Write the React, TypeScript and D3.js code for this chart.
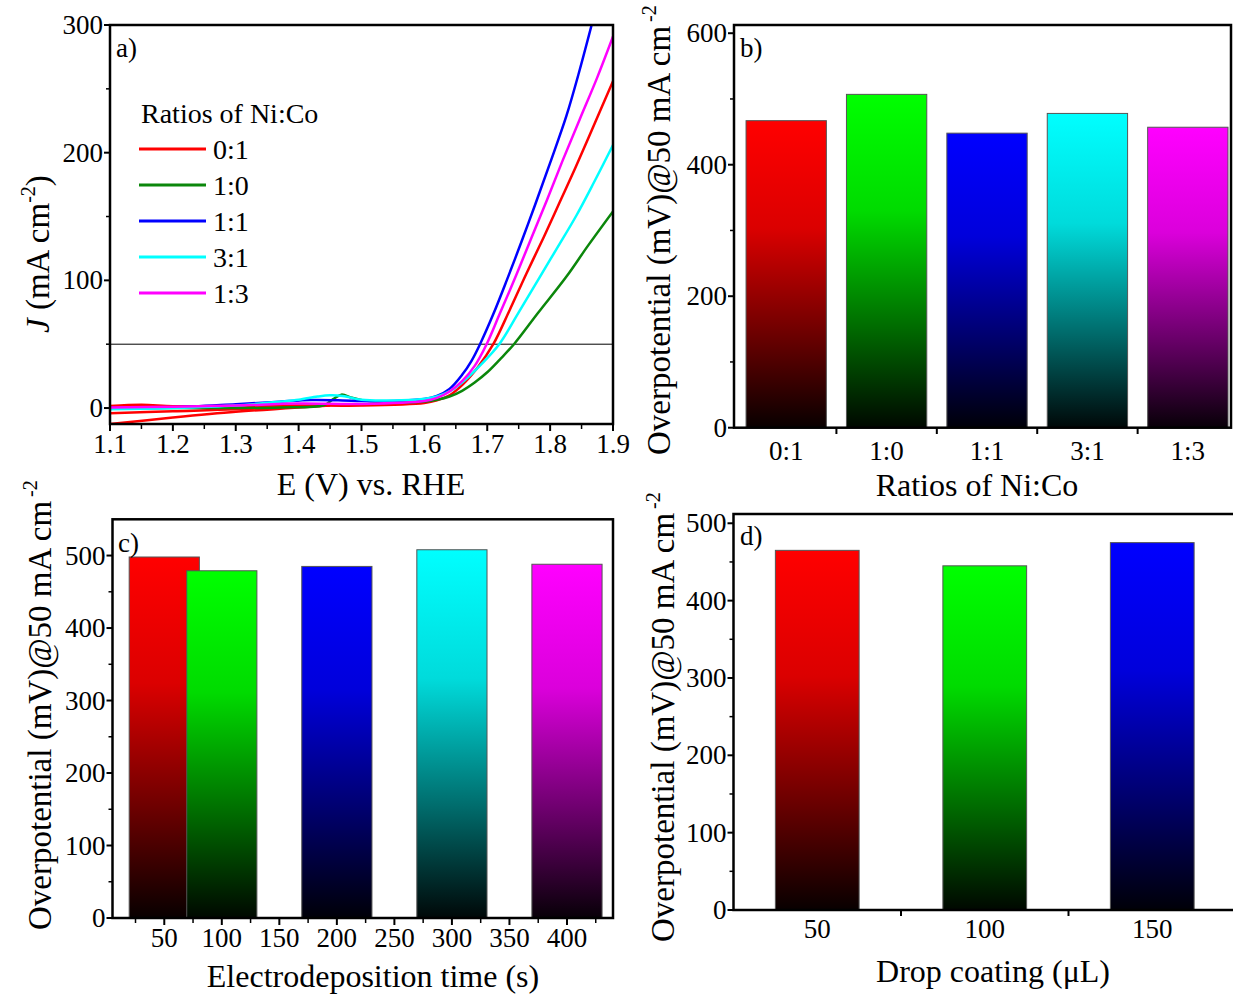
import React from "react";
import * as d3 from "d3";

const FONT = "'Liberation Serif','Times New Roman',Times,serif";

type Pt = [number, number];

// ---------- Panel a: LSV curves (E vs RHE, J in mA cm^-2) ----------
const ratioLabels = ["0:1", "1:0", "1:1", "3:1", "1:3"];
const lineColors = ["#ff0000", "#0b870b", "#0000ff", "#00ffff", "#ff00ff"];
const barColors = ["#ff0000", "#00ff00", "#0000ff", "#00ffff", "#ff00ff"];

const lsv01: Pt[] = [
  [1.1, 1.5], [1.15, 2.5], [1.2, 1.5], [1.3, 1.5], [1.4, 2], [1.5, 2], [1.6, 4],
  [1.62, 6], [1.64, 10], [1.66, 18], [1.685, 32], [1.7096, 50], [1.735, 76], [1.762, 105],
  [1.79, 134], [1.815, 161], [1.84, 188], [1.871, 223], [1.9, 256],
];
const lsv01ReturnA: Pt[] = [[1.1, -4], [1.2, -2.5], [1.3, -1], [1.4, 1.5]];
const lsv01ReturnB: Pt[] = [[1.1, -12.5], [1.2, -7.5], [1.3, -3], [1.4, 0.5], [1.45, 2]];
const lsv10: Pt[] = [
  [1.1, 0], [1.2, 0], [1.3, 0], [1.37, 0.5], [1.44, 2.2], [1.455, 7], [1.468, 10.5],
  [1.485, 8], [1.503, 6], [1.55, 4.5], [1.598, 5], [1.62, 6.5], [1.64, 9], [1.66, 13.5],
  [1.68, 20], [1.7, 28], [1.72, 38], [1.7425, 50], [1.78, 74], [1.826, 103], [1.86, 127], [1.9, 154],
];
const lsv11: Pt[] = [
  [1.1, 0], [1.2, 0.5], [1.3, 3], [1.37, 5], [1.42, 6.3], [1.47, 6], [1.5, 5.5],
  [1.55, 5.5], [1.6, 7], [1.62, 9.5], [1.64, 15], [1.66, 26], [1.675, 37], [1.6885, 50],
  [1.71, 74], [1.731, 100], [1.755, 131], [1.776, 159], [1.8, 192], [1.826, 229],
  [1.846, 263], [1.866, 300],
];
const lsv31: Pt[] = [
  [1.1, -1], [1.2, 0], [1.3, 2], [1.37, 5], [1.4, 6.5], [1.43, 9], [1.45, 10],
  [1.47, 9.5], [1.5, 6.5], [1.55, 6], [1.593, 6.8], [1.62, 9], [1.64, 13], [1.66, 20],
  [1.69, 34], [1.719, 50], [1.75, 75], [1.784, 103], [1.812, 126], [1.842, 151], [1.87, 177], [1.9, 206],
];
const lsv13: Pt[] = [
  [1.1, 0.5], [1.2, 1], [1.3, 2], [1.4, 3.5], [1.5, 3.2], [1.6, 5.5], [1.62, 8],
  [1.64, 13], [1.66, 21], [1.68, 33], [1.699, 50], [1.72, 74], [1.746, 104], [1.77, 133],
  [1.795, 163], [1.82, 194], [1.847, 226], [1.875, 259], [1.9, 291],
];
const lsvSeries: Pt[][] = [lsv01, lsv10, lsv11, lsv31, lsv13];

const potentialTicks = [1.1, 1.2, 1.3, 1.4, 1.5, 1.6, 1.7, 1.8, 1.9];
const potentialMinor = [1.15, 1.25, 1.35, 1.45, 1.55, 1.65, 1.75, 1.85];
const currentTicks = [0, 100, 200, 300];
const currentMinor = [50, 150, 250];
const referenceCurrent = 50;

// ---------- Panel b ----------
const ratioOverpotential = [467, 507, 448, 478, 457];
const ratioYTicks = [0, 200, 400, 600];
const ratioYMinor = [100, 300, 500];

// ---------- Panel c ----------
const depositionTimes = [50, 100, 200, 300, 400];
const depositionOverpotential = [498, 479, 485, 508, 488];
const depositionColors = ["#ff0000", "#00ff00", "#0000ff", "#00ffff", "#ff00ff"];
const timeTicks = [50, 100, 150, 200, 250, 300, 350, 400];
const timeMinor = [25, 75, 125, 175, 225, 275, 325, 375, 425];
const cYTicks = [0, 100, 200, 300, 400, 500];
const cYMinor = [50, 150, 250, 350, 450];

// ---------- Panel d ----------
const dropVolumes = [50, 100, 150];
const dropOverpotential = [465, 445, 475];
const dropColors = ["#ff0000", "#00ff00", "#0000ff"];
const dYTicks = [0, 100, 200, 300, 400, 500];
const dYMinor = [50, 150, 250, 350, 450];
const dXMinor = [75, 125];

function shade(hex: string, k: number) {
  const c = d3.rgb(hex);
  return d3.rgb(c.r * k, c.g * k, c.b * k).formatHex();
}

function Gradients() {
  const uniq = Array.from(new Set([...barColors]));
  return (
    <defs>
      {uniq.map((c) => (
        <linearGradient key={c} id={"g" + c.slice(1)} x1="0" y1="0" x2="0" y2="1">
          <stop offset="0" stopColor={c} />
          <stop offset="0.35" stopColor={shade(c, 0.86)} />
          <stop offset="0.7" stopColor={shade(c, 0.42)} />
          <stop offset="1" stopColor={shade(c, 0.03)} />
        </linearGradient>
      ))}
      <clipPath id="clipA">
        <rect x={110} y={25} width={503} height={399} />
      </clipPath>
    </defs>
  );
}

function YAxis({ scale, x, major, minor }: any) {
  return (
    <g>
      {major.map((v: number) => (
        <g key={"M" + v}>
          <line x1={x - 6} x2={x} y1={scale(v)} y2={scale(v)} stroke="#000" strokeWidth={2} />
          <text x={x - 7} y={scale(v) + 9} textAnchor="end" fontSize={27} fontFamily={FONT}>
            {v}
          </text>
        </g>
      ))}
      {minor.map((v: number) => (
        <line key={"m" + v} x1={x - 4} x2={x} y1={scale(v)} y2={scale(v)} stroke="#000" strokeWidth={1.5} />
      ))}
    </g>
  );
}

function YTitle({ x, y, italicJ }: { x: number; y: number; italicJ?: boolean }) {
  return (
    <text transform={`translate(${x},${y}) rotate(-90)`} fontSize={33} fontFamily={FONT}>
      {italicJ ? (
        <>
          <tspan fontStyle="italic">J</tspan>
          <tspan> (mA cm</tspan>
          <tspan fontSize={20} dy={-14}>-2</tspan>
          <tspan dy={14}>)</tspan>
        </>
      ) : (
        <>
          <tspan>Overpotential (mV)@50 mA cm</tspan>
          <tspan fontSize={20} dy={-14} dx={4}>-2</tspan>
        </>
      )}
    </text>
  );
}

function Bars({ xs, vals, colors, xScale, yScale, width }: any) {
  return (
    <g>
      {vals.map((v: number, i: number) => {
        const x0 = xScale(xs[i] - width / 2);
        const x1 = xScale(xs[i] + width / 2);
        const y0 = yScale(v);
        const y1 = yScale(0);
        return (
          <rect
            key={i}
            x={x0}
            y={y0}
            width={x1 - x0}
            height={y1 - y0}
            fill={`url(#g${colors[i].slice(1)})`}
            stroke="#555"
            strokeWidth={1}
          />
        );
      })}
    </g>
  );
}

export default function App() {
  // Panel a
  const xA = d3.scaleLinear().domain([1.1, 1.9]).range([110, 613]);
  const yA = d3.scaleLinear().domain([-12.5, 300]).range([424, 25]);
  const line = d3
    .line<Pt>()
    .x((d) => xA(d[0]))
    .y((d) => yA(d[1]))
    .curve(d3.curveCatmullRom.alpha(0.5));

  // Panel b
  const xB = d3.scaleLinear().domain([0.48, 5.43]).range([734, 1231]);
  const yB = d3.scaleLinear().domain([0, 612.5]).range([427.7, 25]);
  const ratioPos = ratioLabels.map((_, i) => i + 1);

  // Panel c
  const xC = d3.scaleLinear().domain([5, 440]).range([112.5, 613]);
  const yC = d3.scaleLinear().domain([0, 550]).range([918, 519.3]);

  // Panel d
  const xD = d3.scaleLinear().domain([25, 175]).range([733.5, 1236]);
  const yD = d3.scaleLinear().domain([0, 512]).range([910, 514]);

  const legendY = [149, 185, 221, 257, 293];

  return (
    <svg
      width={1233}
      height={996}
      style={{ position: "absolute", left: 0, top: 0, background: "#fff" }}
      fontFamily={FONT}
    >
      <Gradients />
      <rect x={0} y={0} width={1233} height={996} fill="#fff" />

      {/* ================= Panel a ================= */}
      <g>
        <line
          x1={xA(1.1)}
          x2={xA(1.9)}
          y1={yA(referenceCurrent)}
          y2={yA(referenceCurrent)}
          stroke="#000"
          strokeWidth={1}
        />
        <g clipPath="url(#clipA)">
          <path d={line(lsv01ReturnB) || ""} fill="none" stroke={lineColors[0]} strokeWidth={2.5} />
          <path d={line(lsv01ReturnA) || ""} fill="none" stroke={lineColors[0]} strokeWidth={2.5} />
          {lsvSeries.map((s, i) => (
            <path key={i} d={line(s) || ""} fill="none" stroke={lineColors[i]} strokeWidth={2.5} />
          ))}
        </g>
        <rect x={110} y={25} width={503} height={399} fill="none" stroke="#000" strokeWidth={2.5} />
        {potentialTicks.map((v) => (
          <g key={v}>
            <line x1={xA(v)} x2={xA(v)} y1={424} y2={431} stroke="#000" strokeWidth={2} />
            <text x={xA(v)} y={453} textAnchor="middle" fontSize={27}>
              {v.toFixed(1)}
            </text>
          </g>
        ))}
        {potentialMinor.map((v) => (
          <line key={v} x1={xA(v)} x2={xA(v)} y1={424} y2={429} stroke="#000" strokeWidth={1.5} />
        ))}
        <YAxis scale={yA} x={110} major={currentTicks} minor={currentMinor} />
        <text x={116} y={57} fontSize={27}>a)</text>
        <text x={141} y={123} fontSize={28}>Ratios of Ni:Co</text>
        {ratioLabels.map((r, i) => (
          <g key={r}>
            <line x1={139} x2={206} y1={legendY[i]} y2={legendY[i]} stroke={lineColors[i]} strokeWidth={3} />
            <text x={213} y={legendY[i] + 10} fontSize={28}>
              {r}
            </text>
          </g>
        ))}
        <text x={371} y={495} textAnchor="middle" fontSize={32}>
          E (V) vs. RHE
        </text>
        <YTitle x={49} y={333} italicJ />
      </g>

      {/* ================= Panel b ================= */}
      <g>
        <Bars xs={ratioPos} vals={ratioOverpotential} colors={barColors} xScale={xB} yScale={yB} width={0.8} />
        <rect x={734} y={25} width={1231 - 734} height={427.7 - 25} fill="none" stroke="#000" strokeWidth={2.5} />
        {[1.5, 2.5, 3.5, 4.5].map((v) => (
          <line key={v} x1={xB(v)} x2={xB(v)} y1={427.7} y2={434} stroke="#000" strokeWidth={2} />
        ))}
        {ratioLabels.map((r, i) => (
          <text key={r} x={xB(ratioPos[i])} y={460} textAnchor="middle" fontSize={27}>
            {r}
          </text>
        ))}
        <YAxis scale={yB} x={734} major={ratioYTicks} minor={ratioYMinor} />
        <text x={740} y={57} fontSize={27}>b)</text>
        <text x={977} y={496} textAnchor="middle" fontSize={32}>
          Ratios of Ni:Co
        </text>
        <YTitle x={670} y={455} />
      </g>

      {/* ================= Panel c ================= */}
      <g>
        <Bars
          xs={depositionTimes}
          vals={depositionOverpotential}
          colors={depositionColors}
          xScale={xC}
          yScale={yC}
          width={61}
        />
        <rect x={112.5} y={519.3} width={613 - 112.5} height={918 - 519.3} fill="none" stroke="#000" strokeWidth={2.5} />
        {timeTicks.map((v) => (
          <g key={v}>
            <line x1={xC(v)} x2={xC(v)} y1={918} y2={925} stroke="#000" strokeWidth={2} />
            <text x={xC(v)} y={947} textAnchor="middle" fontSize={27}>
              {v}
            </text>
          </g>
        ))}
        {timeMinor.map((v) => (
          <line key={v} x1={xC(v)} x2={xC(v)} y1={918} y2={923} stroke="#000" strokeWidth={1.5} />
        ))}
        <YAxis scale={yC} x={112.5} major={cYTicks} minor={cYMinor} />
        <text x={118} y={552} fontSize={27}>c)</text>
        <text x={373} y={987} textAnchor="middle" fontSize={32}>
          Electrodeposition time (s)
        </text>
        <YTitle x={51} y={930} />
      </g>

      {/* ================= Panel d ================= */}
      <g>
        <Bars xs={dropVolumes} vals={dropOverpotential} colors={dropColors} xScale={xD} yScale={yD} width={25} />
        <rect x={733.5} y={514} width={1236 - 733.5} height={910 - 514} fill="none" stroke="#000" strokeWidth={2.5} />
        {dXMinor.map((v) => (
          <line key={v} x1={xD(v)} x2={xD(v)} y1={910} y2={916} stroke="#000" strokeWidth={2} />
        ))}
        {dropVolumes.map((v) => (
          <text key={v} x={xD(v)} y={938} textAnchor="middle" fontSize={27}>
            {v}
          </text>
        ))}
        <YAxis scale={yD} x={733.5} major={dYTicks} minor={dYMinor} />
        <text x={740} y={545} fontSize={27}>d)</text>
        <text x={993} y={982} textAnchor="middle" fontSize={32}>
          Drop coating (μL)
        </text>
        <YTitle x={674} y={942} />
      </g>
    </svg>
  );
}
